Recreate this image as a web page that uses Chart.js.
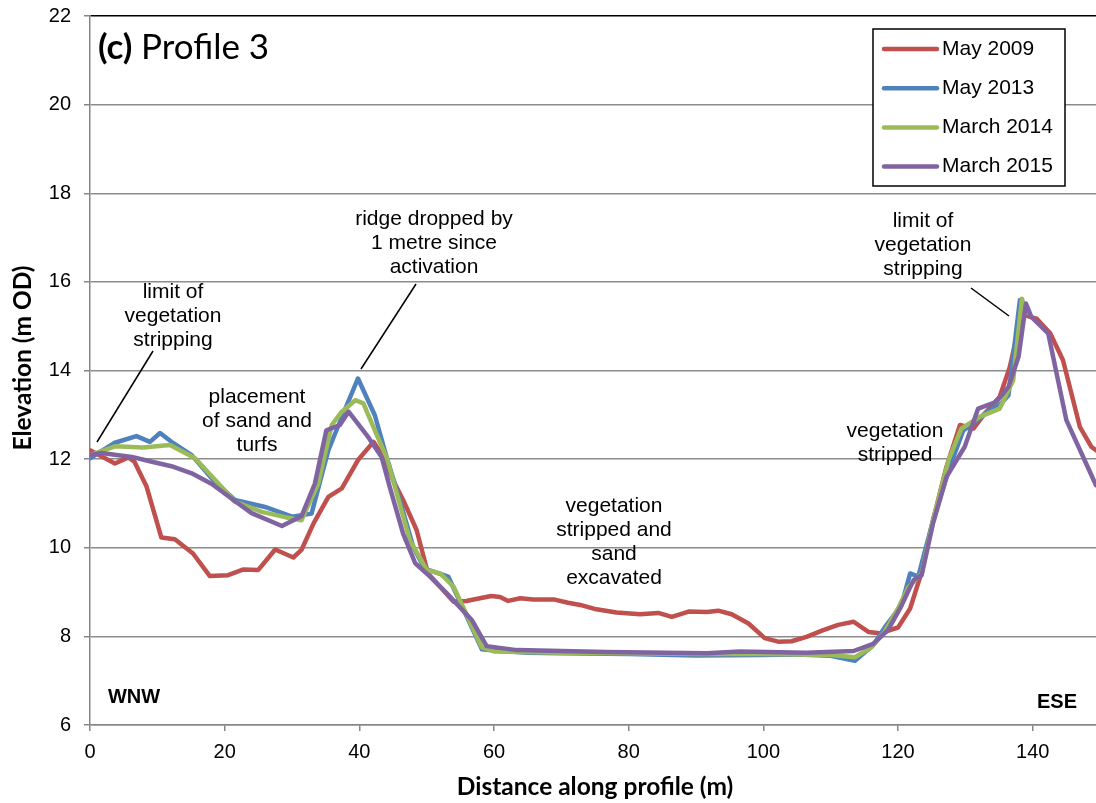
<!DOCTYPE html>
<html><head><meta charset="utf-8">
<script src="https://cdn.jsdelivr.net/npm/chart.js@4/dist/chart.umd.min.js"></script>
<style>html,body{margin:0;padding:0;background:#fff;}#wrap{width:1096px;height:803px;position:relative;}</style>
</head><body><div id="wrap"><canvas id="c" width="1096" height="803"></canvas></div>
<script>
// ---- data (distance m, elevation m OD) ----
const may2009X = [0,3.7,5.7,6.6,8.4,10.6,12.6,15.3,17.8,20.5,22.8,25,27.5,30.2,31.4,33.2,35.4,37.4,39.8,42.1,43.6,45,46.5,48.5,50.2,52,54,55.9,57.9,59.6,60.9,62.1,63.9,65.8,69,71,72.8,75.2,78.2,81.7,84.4,86.4,88.9,91.6,93.3,95.3,97.8,100.2,102.2,104.2,106.4,108.9,111.1,113.4,115.6,117.3,120,121.8,123.3,125.2,127.2,129.2,131.2,132.9,135.1,136.6,138.4,139.6,140.6,142.6,144.5,147,148.7,149.4];
const may2009Y = [12.2,11.9,12.04,11.94,11.38,10.23,10.19,9.87,9.36,9.38,9.51,9.5,9.96,9.78,9.95,10.55,11.15,11.34,11.98,12.39,12.05,11.53,11.08,10.4,9.42,9.12,8.78,8.8,8.86,8.91,8.89,8.8,8.86,8.83,8.83,8.76,8.71,8.61,8.54,8.5,8.53,8.44,8.56,8.55,8.58,8.5,8.29,7.96,7.88,7.89,7.99,8.14,8.26,8.33,8.1,8.07,8.2,8.63,9.35,10.62,11.83,12.77,12.69,13.03,13.41,14.08,15.29,15.21,15.17,14.84,14.23,12.73,12.28,12.2];

const may2013X = [0,3.7,6.9,8.9,10.4,12.1,15.1,18.1,21.5,26,30,32.9,35.4,37.4,39.8,42.3,44.1,46,48,49.7,53.2,58.2,60,65,70,80,90,100,105,110,113.6,116.3,118.3,120.5,121.8,123,125.2,127.7,129.7,131.2,133.2,135.1,136.4,138.1,139];
const may2013Y = [12.02,12.37,12.52,12.39,12.59,12.39,12.09,11.56,11.08,10.92,10.7,10.77,12.2,12.95,13.82,12.99,12.02,11.08,10.02,9.53,9.35,7.71,7.68,7.63,7.62,7.6,7.57,7.58,7.59,7.56,7.45,7.8,8.26,8.7,9.42,9.35,10.62,11.83,12.65,12.8,13.07,13.22,13.44,15.59,15.3];

const mar2014X = [0,3.7,7.9,11.9,15.6,18.6,21.5,25.5,29,31.4,33.9,35.9,37.4,39.4,40.6,42.3,44.1,47.5,50,52,54,58.2,60,70,80,90,100,110,113.6,116,118,120,121.5,123.5,125.2,127.5,129.4,132.2,135.1,137.1,138.4,139];
const mar2014Y = [12.09,12.29,12.26,12.32,12.02,11.53,11.04,10.81,10.69,10.62,11.45,12.77,13.07,13.33,13.26,12.65,12.02,10.17,9.5,9.42,9.12,7.75,7.66,7.63,7.62,7.6,7.6,7.58,7.53,7.75,8.1,8.63,9.1,9.42,10.62,11.98,12.69,12.96,13.14,13.78,15.62,15.3];

const mar2015X = [0,1.7,6.2,9.2,12.1,15.1,18.1,21,24,28.5,31.4,33.4,35.1,37.1,38.4,41.3,43.3,44.5,46.5,48.3,50.5,53,56.7,58.9,63.4,76.7,91.6,96.5,106.4,113.4,116.3,118.5,120.3,122.3,123.5,125.2,127.2,129.9,131.9,134.6,136.4,137.9,139,139.8,142.3,145,149.4];
const mar2015Y = [12.09,12.14,12.05,11.94,11.84,11.68,11.44,11.11,10.78,10.49,10.71,11.45,12.65,12.77,13.07,12.5,12.05,11.38,10.32,9.65,9.35,8.97,8.37,7.78,7.69,7.65,7.62,7.66,7.63,7.67,7.83,8.14,8.63,9.27,9.38,10.55,11.6,12.28,13.14,13.29,13.63,14.31,15.51,15.21,14.84,12.88,11.41];

const seriesLabels = ['May 2009','May 2013','March 2014','March 2015'];
const seriesColors = ['#C0504D','#4F81BD','#9BBB59','#8064A2'];
const xTickValues = [0,20,40,60,80,100,120,140];
const yTickValues = [6,8,10,12,14,16,18,20,22];

const annotations = [
  {lines:['limit of','vegetation','stripping'], x:173, y:292},
  {lines:['placement','of sand and','turfs'], x:257, y:397},
  {lines:['ridge dropped by','1 metre since','activation'], x:434, y:219},
  {lines:['vegetation','stripped and','sand','excavated'], x:614, y:506},
  {lines:['vegetation','stripped'], x:895, y:431},
  {lines:['limit of','vegetation','stripping'], x:923, y:221}
];
const leaders = [[153,351,97,442],[416,284,361,369],[971,288,1009,316]];

function pts(xs, ys){ return xs.map((x,i)=>({x:x, y:ys[i]})); }

const allX = [may2009X, may2013X, mar2014X, mar2015X];
const allY = [may2009Y, may2013Y, mar2014Y, mar2015Y];

const datasets = seriesLabels.map((lab,i)=>({
  label: lab,
  data: pts(allX[i], allY[i]),
  borderColor: seriesColors[i],
  backgroundColor: seriesColors[i],
  borderWidth: 4.5,
  pointRadius: 0,
  tension: 0,
  fill: false,
  borderJoinStyle: 'round',
  borderCapStyle: 'round',
  order: 4 - i
}));

const decor = {
  id: 'decor',
  afterDraw(chart){
    const ctx = chart.ctx;
    ctx.save();
    ctx.fillStyle = '#000';
    ctx.textAlign = 'center';
    ctx.textBaseline = 'middle';
    ctx.font = '21px "Liberation Sans", Arial, sans-serif';
    annotations.forEach(a=>{
      a.lines.forEach((t,j)=>ctx.fillText(t, a.x, a.y + j*24));
    });
    ctx.strokeStyle = '#000';
    ctx.lineWidth = 1.5;
    leaders.forEach(l=>{ ctx.beginPath(); ctx.moveTo(l[0],l[1]); ctx.lineTo(l[2],l[3]); ctx.stroke(); });
    ctx.font = 'bold 20px "Liberation Sans", Arial, sans-serif';
    ctx.fillText('WNW', 134, 697);
    ctx.fillText('ESE', 1057, 702);
    // panel title
    ctx.textAlign = 'left';
    ctx.textBaseline = 'alphabetic';
    ctx.font = 'bold 35px Lato, sans-serif';
    ctx.fillText('(c)', 98, 59);
    const w = ctx.measureText('(c) ').width;
    ctx.font = '35px Lato, sans-serif';
    ctx.fillText('Profile 3', 98 + w, 59);
    // axis titles
    ctx.font = 'bold 24.5px Lato, sans-serif';
    ctx.textAlign = 'center';
    ctx.textBaseline = 'middle';
    ctx.fillText('Distance along profile (m)', 595, 787);
    ctx.save();
    ctx.translate(23, 358);
    ctx.rotate(-Math.PI/2);
    ctx.fillText('Elevation (m OD)', 0, 0);
    ctx.restore();
    // legend
    ctx.fillStyle = '#fff';
    ctx.fillRect(873, 29, 192, 157);
    ctx.strokeStyle = '#000';
    ctx.lineWidth = 1.5;
    ctx.strokeRect(873, 29, 192, 157);
    ctx.font = '21px "Liberation Sans", Arial, sans-serif';
    ctx.textAlign = 'left';
    ctx.textBaseline = 'middle';
    seriesLabels.forEach((lab,i)=>{
      const yy = 49 + i*39.2;
      ctx.strokeStyle = seriesColors[i];
      ctx.lineWidth = 4.5;
      ctx.lineCap = 'round';
      ctx.beginPath(); ctx.moveTo(884, yy); ctx.lineTo(937, yy); ctx.stroke();
      ctx.fillStyle = '#000';
      ctx.fillText(lab, 942, yy);
    });
    ctx.restore();
  }
};

new Chart(document.getElementById('c'), {
  type: 'line',
  data: { datasets: datasets },
  options: {
    responsive: false,
    animation: false,
    devicePixelRatio: 1,
    layout: { padding: { left: 0, right: 0, top: 16, bottom: 0 } },
    plugins: { legend: { display: false }, tooltip: { enabled: false }, title: { display: false } },
    scales: {
      x: {
        type: 'linear', min: 0, max: 149.4,
        afterBuildTicks: s => { s.ticks = xTickValues.map(v=>({value:v})); },
        afterFit: s => { s.height = 78; s.paddingLeft = 0; s.paddingRight = 0; },
        grid: { drawOnChartArea: false, drawTicks: true, tickLength: 6, color: '#868686', lineWidth: 1.5 },
        border: { color: '#868686', width: 1.5 },
        ticks: { color: '#000', font: { family: '"Liberation Sans", Arial, sans-serif', size: 20 }, padding: 9, maxRotation: 0, autoSkip: false }
      },
      y: {
        type: 'linear', min: 6, max: 22,
        afterBuildTicks: s => { s.ticks = yTickValues.map(v=>({value:v})); },
        afterFit: s => { s.width = 90; s.paddingTop = 0; s.paddingBottom = 0; },
        grid: { color: c => (c.tick && c.tick.value === 22) ? '#000' : '#8c8c8c', tickColor: '#868686', lineWidth: 1.5, tickLength: 6, drawTicks: true },
        border: { color: '#868686', width: 1.5 },
        ticks: { color: '#000', font: { family: '"Liberation Sans", Arial, sans-serif', size: 20 }, padding: 13 }
      }
    }
  },
  plugins: [decor]
});
</script></body></html>
